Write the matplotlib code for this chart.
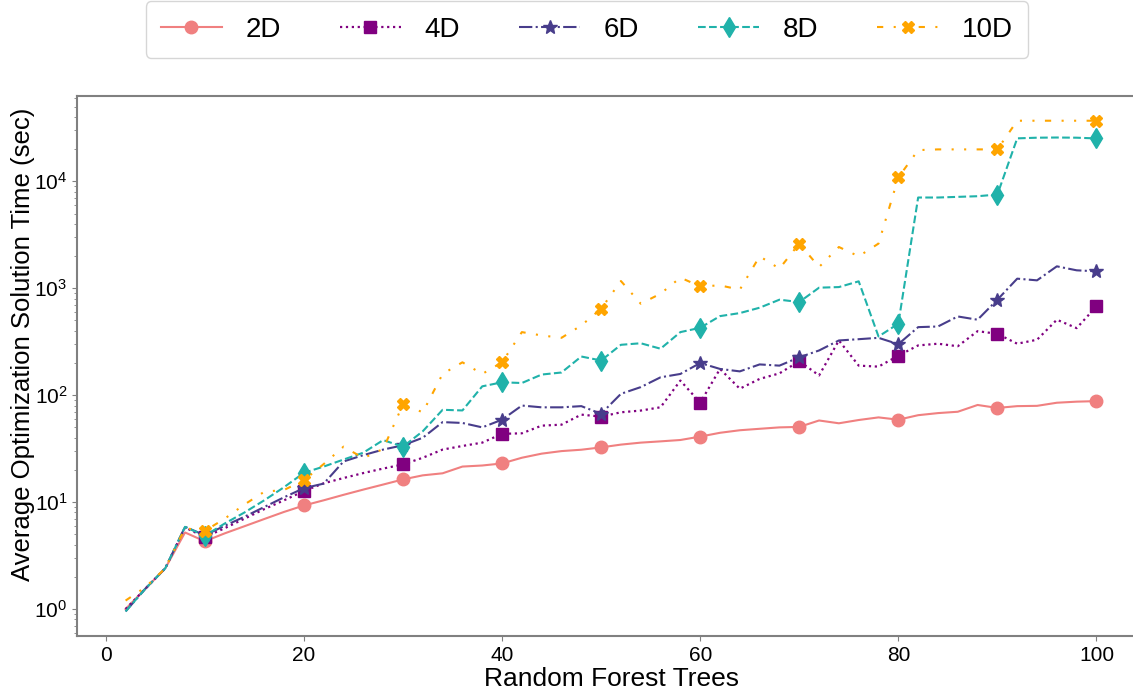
import matplotlib
matplotlib.use("Agg")
import matplotlib.pyplot as plt

plt.rcParams['font.family'] = ['Liberation Sans', 'DejaVu Sans']

trees = [2, 4, 6, 8, 10, 12, 14, 16, 18, 20,
         22, 24, 26, 28, 30, 32, 34, 36, 38, 40,
         42, 44, 46, 48, 50, 52, 54, 56, 58, 60,
         62, 64, 66, 68, 70, 72, 74, 76, 78, 80,
         82, 84, 86, 88, 90, 92, 94, 96, 98, 100]

t_2d = [1.0, 1.55, 2.4, 5.2, 4.3, 5.1, 5.95, 6.95, 8.1, 9.3,
        10.4, 11.7, 13.1, 14.6, 16.3, 17.8, 18.6, 21.5, 22.0, 23.0,
        26.0, 28.4, 30.0, 30.9, 32.5, 34.5, 36.0, 37.0, 38.1, 41.0,
        44.5, 47.0, 48.5, 50.0, 50.5, 58.0, 54.6, 58.6, 62.0, 59.0,
        65.0, 68.0, 70.0, 81.0, 76.0, 79.0, 79.5, 85.0, 87.0, 88.0]

t_4d = [1.0, 1.55, 2.4, 5.8, 4.7, 5.7, 7.0, 8.6, 10.4, 12.7,
        15.0, 16.8, 18.7, 20.6, 22.5, 26.0, 31.0, 33.5, 36.0, 43.5,
        44.0, 51.9, 53.0, 65.8, 63.0, 69.2, 71.8, 77.1, 137, 85.0,
        176, 115, 142, 160, 208, 153, 325, 189, 185, 234,
        292, 303, 287, 397, 375, 303, 330, 508, 424, 677]

t_6d = [0.95, 1.55, 2.4, 5.87, 4.9, 6.0, 7.3, 9.0, 11.1, 13.5,
        14.9, 24.0, 27.5, 31.0, 34.0, 40.0, 56.0, 55.0, 50.0, 59.0,
        80.0, 77.0, 77.0, 79.0, 67.0, 103, 119, 147, 158, 200,
        176, 167, 194, 189, 226, 262, 325, 334, 344, 300,
        433, 439, 545, 508, 782, 1230, 1186, 1604, 1472, 1440]

t_8d = [0.95, 1.55, 2.4, 5.87, 4.85, 6.3, 8.0, 10.4, 13.8, 18.8,
        21.5, 25.0, 29.0, 38.0, 33.0, 46.0, 73.0, 72.0, 121, 132,
        130, 156, 163, 230, 211, 296, 306, 272, 389, 427,
        549, 586, 658, 782, 743, 1013, 1026, 1161, 354, 466,
        7060, 7060, 7160, 7260, 7530, 25240, 25600, 25700, 25600, 25200]

t_10d = [1.2, 1.6, 2.4, 5.7, 5.38, 7.0, 9.5, 12.5, 13.0, 16.0,
         22.7, 33.0, 25.8, 31.4, 82.0, 69.2, 158, 203, 158, 203,
         389, 362, 344, 449, 644, 1169, 717, 890, 1257, 1042,
         1064, 971, 1990, 1527, 2618, 1581, 2432, 1990, 2618, 10870,
         19600, 19900, 19900, 19900, 19900, 36900, 36900, 36900, 36900, 36900]

labels = ['2D', '4D', '6D', '8D', '10D']

fig = plt.figure(figsize=(11.33, 6.92), dpi=100)
ax = fig.add_axes([0.068, 0.081, 0.9426, 0.780])

every = slice(4, None, 5)
ax.plot(trees, t_2d, color='#F08080', ls='-', lw=1.5, marker='o', ms=9,
        markevery=every, label=labels[0])
ax.plot(trees, t_4d, color='#800080', ls=':', lw=1.6, marker='s', ms=9,
        markevery=every, label=labels[1])
ax.plot(trees, t_6d, color='#483D8B', ls='-.', lw=1.5, marker='*', ms=10,
        markevery=every, label=labels[2])
ax.plot(trees, t_8d, color='#20B2AA', ls='--', lw=1.5, marker='d', ms=10,
        markevery=every, label=labels[3])
ax.plot(trees, t_10d, color='#FFA500', ls=(0, (3, 5, 1, 5, 1, 5)), lw=1.5,
        marker='X', ms=9, markevery=every, label=labels[4])

ax.set_yscale('log')
ax.set_xticks([0, 20, 40, 60, 80, 100])
ax.tick_params(axis='both', which='major', labelsize=15, color='gray')
ax.tick_params(axis='both', which='minor', color='gray')
for s in ax.spines.values():
    s.set_color('gray')
    s.set_linewidth(1.5)

ax.set_xlabel('Random Forest Trees', fontsize=19, labelpad=2)
ax.set_ylabel('Average Optimization Solution Time (sec)', fontsize=18.5)
ax.yaxis.set_label_coords(-0.039, 0.54)

fig.legend(loc='center', bbox_to_anchor=(0.518, 0.957), ncol=5, fontsize=20,
           handlelength=2.2, handletextpad=0.85, columnspacing=2.12,
           borderpad=0.55, frameon=True, edgecolor='#cccccc', fancybox=True)

fig.savefig('out.png', dpi=100)
